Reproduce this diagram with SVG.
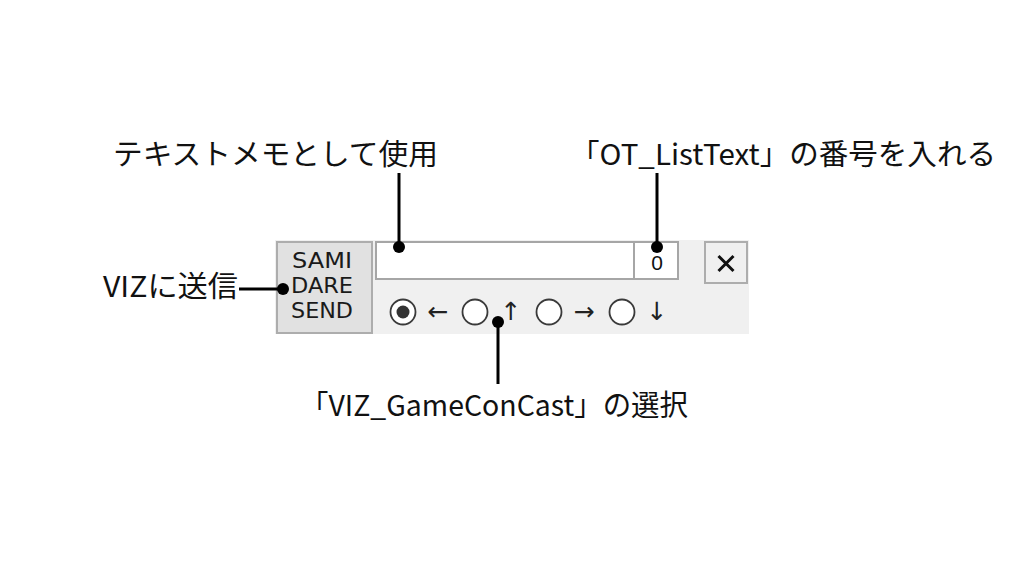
<svg xmlns="http://www.w3.org/2000/svg" width="1024" height="576" viewBox="0 0 1024 576">
<defs>
<style>
.lbl{font-family:"Noto Sans CJK JP","Noto Sans",sans-serif;font-size:29px;fill:#111}
.btn{font-family:"DejaVu Sans","Liberation Sans",sans-serif;font-size:22px;fill:#1a1a1a}
.arr{font-family:"DejaVu Sans","Liberation Sans",sans-serif;font-size:25px;fill:#222}
.wire{stroke:#000;stroke-width:3;fill:none}
.radio{fill:#fff;stroke:#3a3a3a;stroke-width:1.8}
.box{fill:#fff;stroke:#a6a6a6;stroke-width:2}
</style>
</defs>
<rect width="1024" height="576" fill="#fff"/>
<g id="panel">
<rect x="275" y="240" width="474" height="94" fill="#f0f0f0"/>
</g>
<g id="send-button">
<rect x="277" y="242" width="95" height="91" fill="#e1e1e1" stroke="#adadad" stroke-width="2"/>
<text class="btn" x="322" y="268" text-anchor="middle" textLength="60" lengthAdjust="spacingAndGlyphs">SAMI</text>
<text class="btn" x="322" y="293" text-anchor="middle" textLength="62" lengthAdjust="spacingAndGlyphs">DARE</text>
<text class="btn" x="322" y="318" text-anchor="middle" textLength="62" lengthAdjust="spacingAndGlyphs">SEND</text>
</g>
<g id="memo-box">
<rect class="box" x="376" y="242" width="258" height="37"/>
</g>
<g id="number-box">
<rect class="box" x="634" y="242" width="44" height="37"/>
<text x="657" y="270" text-anchor="middle" font-family="Liberation Sans,sans-serif" font-size="21" fill="#111">0</text>
</g>
<g id="close-button">
<rect x="705" y="242" width="42" height="41" fill="#f0f0f0" stroke="#adadad" stroke-width="2"/>
<path d="M718.5 256 L733.5 271 M733.5 256 L718.5 271" stroke="#111" stroke-width="3"/>
</g>
<g id="radios">
<circle class="radio" cx="403" cy="312" r="12.5"/>
<circle cx="403" cy="312" r="6.5" fill="#333"/>
<text class="arr" x="438" y="320" text-anchor="middle">←</text>
<circle class="radio" cx="475" cy="312" r="12.5"/>
<text class="arr" x="511" y="320" text-anchor="middle">↑</text>
<circle class="radio" cx="549" cy="312" r="12.5"/>
<text class="arr" x="584" y="320" text-anchor="middle">→</text>
<circle class="radio" cx="622" cy="312" r="12.5"/>
<text class="arr" x="657" y="320" text-anchor="middle">↓</text>
</g>
<g id="connectors">
<line class="wire" x1="399" y1="173" x2="399" y2="247"/>
<circle cx="399" cy="247" r="6"/>
<line class="wire" x1="657" y1="173" x2="657" y2="247"/>
<circle cx="657" cy="247" r="6"/>
<line class="wire" x1="239" y1="289" x2="283" y2="289"/>
<circle cx="283" cy="289" r="6"/>
<line class="wire" x1="498" y1="322" x2="498" y2="384"/>
<circle cx="498" cy="322" r="6"/>
</g>
<g id="label-memo">
<text class="lbl" x="113" y="165" textLength="325" lengthAdjust="spacingAndGlyphs">テキストメモとして使用</text>
</g>
<g id="label-number">
<text class="lbl" x="570" y="165" textLength="426" lengthAdjust="spacingAndGlyphs">「OT_ListText」の番号を入れる</text>
</g>
<g id="label-send">
<text class="lbl" x="103" y="297" textLength="135" lengthAdjust="spacingAndGlyphs">VIZに送信</text>
</g>
<g id="label-select">
<text class="lbl" x="300" y="416" textLength="388" lengthAdjust="spacingAndGlyphs">「VIZ_GameConCast」の選択</text>
</g>
</svg>
